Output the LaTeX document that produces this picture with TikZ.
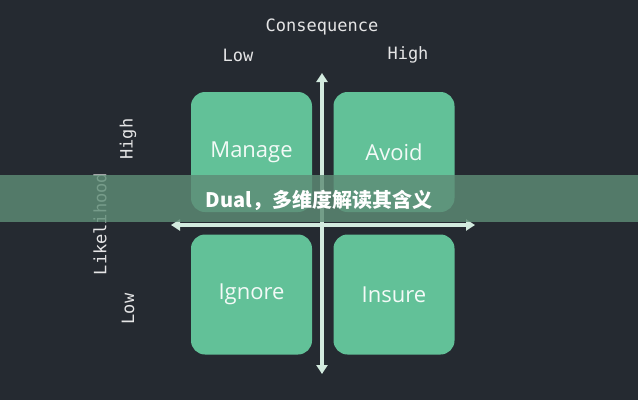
\documentclass[tikz,border=0pt]{standalone}
\usepackage{fontspec}
\setmainfont{Open Sans}
\newfontfamily\labelfont{DejaVu Sans Mono}
\newfontfamily\cjk{Noto Sans CJK SC}
\usetikzlibrary{arrows.meta}
\definecolor{bgdark}{HTML}{252A31}
\definecolor{sgreen}{HTML}{62C198}
\definecolor{sarrow}{HTML}{D3EBDF}
\definecolor{sband}{HTML}{5E8C76}

\begin{document}
\begin{tikzpicture}[x=1pt, y=-1pt,
    Quad/.style={rectangle, rounded corners=14pt, fill=sgreen, minimum width=121pt, minimum height=120pt, text=white!92!sgreen, font=\fontsize{22}{25}\selectfont},
    Lbl/.style={text=white!88!bgdark, font=\labelfont\fontsize{17}{20}\selectfont}
    ]
        \fill[bgdark] (0,0) rectangle (638,400);
        \useasboundingbox (0,0) rectangle (638,400);
        % quadrants
        \node[Quad] (manage) at (251.5,152) {Manage};
        \node[Quad] (avoid) at (394,152) {Avoid};
        \node[Quad] (ignore) at (251.5,294.5) {Ignore};
        \node[Quad] (insure) at (394,294.5) {Insure};
        % axes
        \coordinate (top) at (322,73);
        \coordinate (bot) at (322,374);
        \coordinate (lft) at (171,225);
        \coordinate (rgt) at (475,225);
        \draw[sarrow, line width=3.5pt, {Triangle[width=11pt,length=9pt]}-{Triangle[width=11pt,length=9pt]}] (top) -- (bot);
        \draw[sarrow, line width=3.5pt, {Triangle[width=11pt,length=9pt]}-{Triangle[width=11pt,length=9pt]}] (lft) -- (rgt);
        % labels
        \node[Lbl] (cons) at (322,27) {Consequence};
        \node[Lbl] (clow) at (238,55) {Low};
        \node[Lbl] (chigh) at (408,55) {High};
        \node[Lbl, rotate=90] (like) at (100,224) {Likelihood};
        \node[Lbl, rotate=90] (lhigh) at (128,139) {High};
        \node[Lbl, rotate=90] (llow) at (128,309) {Low};
        % banner
        \fill[sband, opacity=0.82] (0,175) rectangle (638,222);
        \node[text=white, font=\cjk\bfseries\fontsize{20}{23}\selectfont] (title) at (319,200) {Dual，多维度解读其含义};
    \end{tikzpicture}
\end{document}
